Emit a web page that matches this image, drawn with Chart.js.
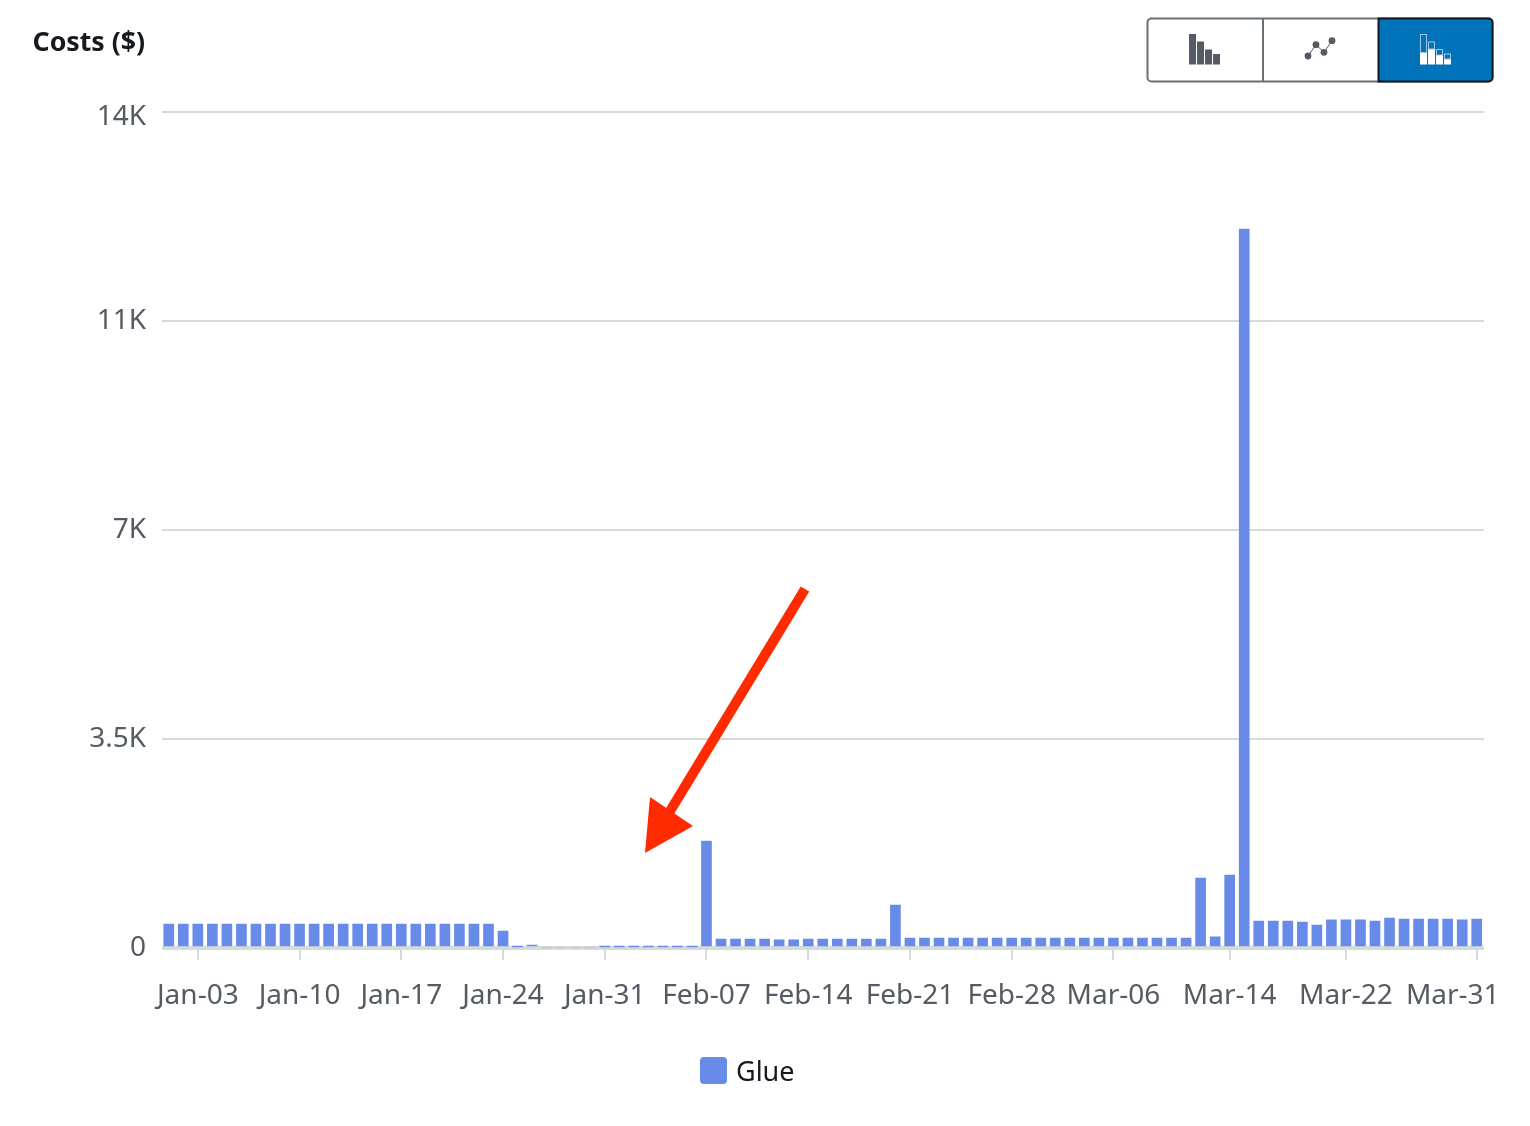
<!DOCTYPE html>
<html>
<head>
<meta charset="utf-8">
<title>Costs</title>
<script src="https://cdn.jsdelivr.net/npm/chart.js@4"></script>
<style>
  html, body { margin: 0; background: #fff; }
  #wrap { position: relative; width: 1530px; height: 1126px; overflow: hidden; font-family: "Noto Sans", sans-serif; }
  #chart { position: absolute; left: 0; top: 0; }
  #title { position: absolute; left: 32.5px; top: 22px; font-size: 26.7px; line-height: 38px; font-weight: 700; color: #16191f; }
  #legend { position: absolute; left: 700px; top: 1051px; display: flex; align-items: center; height: 38px; font-size: 27px; color: #16191f; }
  #legend i { display: block; width: 27px; height: 27px; border-radius: 4px; margin-right: 9px; }
  svg { position: absolute; left: 0; top: 0; pointer-events: none; }
</style>
</head>
<body>
<div id="wrap">
  <canvas id="chart" width="1530" height="1126"></canvas>
  <div id="title">Costs ($)</div>
  <div id="legend"></div>
  <svg width="1530" height="1126">
    <!-- toggle buttons -->
    <rect x="1147.5" y="18.5" width="345" height="63" rx="4" fill="#fff" stroke="#687078" stroke-width="2"/>
    <line x1="1263" y1="19" x2="1263" y2="81" stroke="#687078" stroke-width="2"/>
    <path d="M1378.5 18.5H1488.5a4 4 0 0 1 4 4V77.5a4 4 0 0 1-4 4H1378.5Z" fill="#0073bb" stroke="#16191f" stroke-width="2"/>
    <g fill="#545b64">
      <rect x="1189" y="34" width="7" height="30.5"/>
      <rect x="1197" y="41.5" width="7" height="23"/>
      <rect x="1205" y="49.5" width="7" height="15"/>
      <rect x="1213" y="54" width="7" height="10.5"/>
      <circle cx="1308" cy="56" r="3.4"/>
      <circle cx="1316" cy="44.7" r="3.4"/>
      <circle cx="1324" cy="52.3" r="3.4"/>
      <circle cx="1332" cy="40.7" r="3.4"/>
    </g>
    <polyline points="1308,56 1316,44.7 1324,52.3 1332,40.7" fill="none" stroke="#545b64" stroke-width="1"/>
    <g fill="#fff">
      <rect x="1420" y="52.5" width="7" height="12"/>
      <rect x="1428" y="49" width="7" height="15.5"/>
      <rect x="1436" y="55" width="7" height="9.5"/>
      <rect x="1444" y="59" width="7" height="5.5"/>
    </g>
    <g fill="none" stroke="#9cc7e4" stroke-width="1">
      <rect x="1420.5" y="34.5" width="6" height="18"/>
      <rect x="1428.5" y="42" width="6" height="7"/>
      <rect x="1436.5" y="49.5" width="6" height="5.5"/>
      <rect x="1444.5" y="54" width="6" height="5"/>
    </g>
    <!-- red annotation arrow -->
    <line x1="805" y1="589" x2="664" y2="821" stroke="#ff2a00" stroke-width="10"/>
    <polygon points="645,853 650,797 693,826" fill="#ff2a00"/>
  </svg>
</div>
<script>
const categories = [
  "Jan-01", "Jan-02", "Jan-03", "Jan-04", "Jan-05", "Jan-06", "Jan-07", "Jan-08", "Jan-09", "Jan-10",
  "Jan-11", "Jan-12", "Jan-13", "Jan-14", "Jan-15", "Jan-16", "Jan-17", "Jan-18", "Jan-19", "Jan-20",
  "Jan-21", "Jan-22", "Jan-23", "Jan-24", "Jan-25", "Jan-26", "Jan-27", "Jan-28", "Jan-29", "Jan-30", "Jan-31",
  "Feb-01", "Feb-02", "Feb-03", "Feb-04", "Feb-05", "Feb-06", "Feb-07", "Feb-08", "Feb-09", "Feb-10",
  "Feb-11", "Feb-12", "Feb-13", "Feb-14", "Feb-15", "Feb-16", "Feb-17", "Feb-18", "Feb-19", "Feb-20",
  "Feb-21", "Feb-22", "Feb-23", "Feb-24", "Feb-25", "Feb-26", "Feb-27", "Feb-28", "Feb-29",
  "Mar-01", "Mar-02", "Mar-03", "Mar-04", "Mar-05", "Mar-06", "Mar-07", "Mar-08", "Mar-09", "Mar-10",
  "Mar-11", "Mar-12", "Mar-13", "Mar-14", "Mar-15", "Mar-16", "Mar-17", "Mar-18", "Mar-19", "Mar-20",
  "Mar-21", "Mar-22", "Mar-23", "Mar-24", "Mar-25", "Mar-26", "Mar-27", "Mar-28", "Mar-29", "Mar-30", "Mar-31"
];
const glueCosts = [
  400, 400, 400, 400, 400, 400, 400, 400, 400, 400,
  400, 400, 400, 400, 400, 400, 400, 400, 400, 400,
  400, 400, 400, 285, 18, 50, 0, 0, 0, 0, 18,
  18, 18, 18, 18, 18, 18, 1790, 150, 150, 150,
  150, 135, 135, 150, 150, 150, 150, 150, 150, 720,
  165, 165, 165, 165, 165, 165, 165, 165, 165,
  165, 165, 165, 165, 165, 165, 165, 165, 165, 165,
  165, 1170, 185, 1220, 12040, 450, 450, 450, 435, 385,
  470, 470, 470, 450, 500, 485, 485, 485, 485, 470, 485
];
const xTickLabels = ["Jan-03", "Jan-10", "Jan-17", "Jan-24", "Jan-31", "Feb-07", "Feb-14", "Feb-21", "Feb-28", "Mar-06", "Mar-14", "Mar-22", "Mar-31"];
const yTickValues = [0, 3500, 7000, 10500, 14000];
const yTickLabels = ["0", "3.5K", "7K", "11K", "14K"];

const gridColor = "#d5dbdb";
const textColor = "#545b64";
const barColor = "#688ae8";
const tickFont = { family: "'Noto Sans', sans-serif", size: 28 };

// the reference pushes its first and last labels inside the plot
const nudgeLabels = {
  id: "nudgeLabels",
  beforeDraw(chart) {
    const shift = (scale, label, dx, dy) => {
      scale.getLabelItems().forEach((item) => {
        if (item.label === label) {
          const t = item.options.translation;
          item.options.translation = [t[0] + dx, t[1] + dy];
        }
      });
    };
    shift(chart.scales.x, "Mar-31", -24, 0);
    shift(chart.scales.y, "14K", 0, 5);
  },
};

const chart = new Chart(document.getElementById("chart"), {
  type: "bar",
  data: {
    labels: categories,
    datasets: [{ label: "Glue", data: glueCosts, backgroundColor: barColor, barThickness: 10 }],
  },
  options: {
    responsive: false,
    animation: false,
    layout: { padding: { top: 112, right: 46, bottom: 0, left: 0 } },
    plugins: { legend: { display: false }, tooltip: { enabled: false } },
    scales: {
      x: {
        afterBuildTicks: (scale) => {
          scale.ticks = scale.ticks.filter((t) => xTickLabels.includes(categories[t.value]));
        },
        afterFit: (scale) => {
          scale.height = 178;
          scale.paddingLeft = 0;
          scale.paddingRight = 0;
        },
        grid: { offset: false, drawOnChartArea: false, color: gridColor, lineWidth: 2, tickLength: 12 },
        border: { display: false },
        ticks: { autoSkip: false, maxRotation: 0, minRotation: 0, color: textColor, font: tickFont, padding: 19 },
      },
      y: {
        min: 0,
        max: 14000,
        afterBuildTicks: (scale) => {
          scale.ticks = yTickValues.map((value) => ({ value }));
        },
        afterFit: (scale) => { scale.width = 161.5; },
        grid: {
          color: gridColor,
          lineWidth: (ctx) => (ctx.tick && ctx.tick.value === 0 ? 4 : 2),
          drawTicks: false,
        },
        border: { display: false },
        ticks: {
          color: textColor,
          font: tickFont,
          padding: 15.5,
          callback: (value) => yTickLabels[yTickValues.indexOf(value)],
        },
      },
    },
  },
  plugins: [nudgeLabels],
});

const legend = document.getElementById("legend");
chart.data.datasets.forEach((ds) => {
  const swatch = document.createElement("i");
  swatch.style.background = ds.backgroundColor;
  const name = document.createElement("span");
  name.innerText = ds.label;
  legend.appendChild(swatch);
  legend.appendChild(name);
});
</script>
</body>
</html>
